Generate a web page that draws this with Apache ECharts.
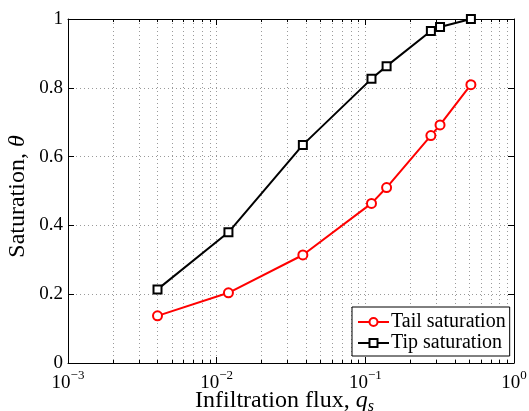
<!DOCTYPE html>
<html>
<head>
<meta charset="utf-8">
<script src="https://cdn.jsdelivr.net/npm/echarts@6/dist/echarts.min.js"></script>
<style>
  html, body { margin: 0; padding: 0; background: #fff; }
  #chart { width: 529px; height: 411px; }
</style>
</head>
<body>
<div id="chart"></div>
<script>
// Infiltration flux q_s (log scale) and the corresponding saturations
const fluxValues     = [0.004, 0.012, 0.038, 0.110, 0.139, 0.276, 0.318, 0.513];
const tailSaturation = [0.137, 0.204, 0.314, 0.464, 0.510, 0.661, 0.692, 0.809];
const tipSaturation  = [0.214, 0.380, 0.634, 0.826, 0.863, 0.965, 0.977, 1.000];
const seriesNames    = ['Tail saturation', 'Tip saturation'];

const FONT = "'Liberation Serif', 'DejaVu Serif', serif";
const dotted = { color: '#9a9a9a', width: 1, type: [1, 3] };

function pairs(xs, ys) {
  return xs.map((x, i) => [x, ys[i]]);
}

// 10^n tick labels for the log axis
function powerLabel(v) {
  const e = Math.round(Math.log10(v));
  const exp = e < 0 ? '\u2212' + (-e) : String(e);
  return '{b|10}{e|' + exp + '}';
}

const powerRich = {
  b: { fontFamily: FONT, fontSize: 19, color: '#000', verticalAlign: 'bottom', lineHeight: 24 },
  e: { fontFamily: FONT, fontSize: 13, color: '#000', verticalAlign: 'top', lineHeight: 24 }
};

const chart = echarts.init(document.getElementById('chart'), null, { renderer: 'canvas' });

const baseX = {
  type: 'log',
  logBase: 10,
  min: 0.001,
  max: 1,
  axisLine: { show: true, onZero: false, lineStyle: { color: '#000', width: 1 } },
  axisTick: { show: true, inside: true, length: 6, lineStyle: { color: '#000' } },
  minorTick: { show: true, splitNumber: 9, length: 3, lineStyle: { color: '#000' } }
};

const baseY = {
  type: 'value',
  min: 0,
  max: 1,
  interval: 0.2,
  axisLine: { show: true, onZero: false, lineStyle: { color: '#000', width: 1 } },
  axisTick: { show: true, inside: true, length: 6, lineStyle: { color: '#000' } }
};

chart.setOption({
  animation: false,
  backgroundColor: '#fff',
  grid: { left: 68, right: 15, top: 19, bottom: 48, containLabel: false, outerBoundsMode: 'none' },
  xAxis: [
    Object.assign({}, baseX, {
      position: 'bottom',
      name: 'Infiltration flux, {i|q}{s|s}',
      nameLocation: 'middle',
      nameGap: 24,
      nameMoveOverlap: false,
      nameTextStyle: {
        fontFamily: FONT, fontSize: 24, color: '#000', lineHeight: 24,
        padding: [0, 13, 0, 0],
        rich: {
          i: { fontFamily: FONT, fontSize: 24, fontStyle: 'italic', color: '#000', lineHeight: 24 },
          s: { fontFamily: FONT, fontSize: 16, fontStyle: 'italic', color: '#000', verticalAlign: 'bottom', lineHeight: 28 }
        }
      },
      axisLabel: { show: true, margin: 6, formatter: powerLabel, rich: powerRich },
      splitLine: { show: true, lineStyle: dotted },
      minorSplitLine: { show: true, lineStyle: dotted }
    }),
    Object.assign({}, baseX, {
      position: 'top',
      axisLabel: { show: false },
      splitLine: { show: false },
      minorSplitLine: { show: false }
    })
  ],
  yAxis: [
    Object.assign({}, baseY, {
      position: 'left',
      name: 'Saturation, {i|\u03b8}',
      nameLocation: 'middle',
      nameRotate: 90,
      nameGap: 38,
      nameMoveOverlap: false,
      nameTextStyle: {
        fontFamily: FONT, fontSize: 24, color: '#000', lineHeight: 24,
        padding: [0, 11, 0, 0],
        rich: { i: { fontFamily: FONT, fontSize: 24, fontStyle: 'italic', color: '#000', lineHeight: 24 } }
      },
      axisLabel: {
        show: true, margin: 5,
        fontFamily: FONT, fontSize: 19, color: '#000',
        formatter: v => (v === 0 || v === 1) ? String(v) : v.toFixed(1)
      },
      splitLine: { show: true, lineStyle: dotted }
    }),
    Object.assign({}, baseY, {
      position: 'right',
      axisLabel: { show: false },
      splitLine: { show: false }
    })
  ],
  legend: {
    data: seriesNames,
    orient: 'vertical',
    left: 352,
    top: 307,
    padding: [5, 4, 3, 5],
    itemGap: 1,
    itemWidth: 31,
    itemHeight: 10,
    borderColor: '#000',
    borderWidth: 1,
    borderRadius: 0,
    backgroundColor: '#fff',
    textStyle: { fontFamily: FONT, fontSize: 20, lineHeight: 20, color: '#000', padding: [0, 0, 0, -3] }
  },
  series: [
    {
      name: seriesNames[0],
      type: 'line',
      xAxisIndex: 0,
      yAxisIndex: 0,
      data: pairs(fluxValues, tailSaturation),
      symbol: 'emptyCircle',
      symbolSize: 9,
      lineStyle: { color: '#ff0000', width: 2 },
      itemStyle: { color: '#ff0000', borderColor: '#ff0000', borderWidth: 1.8 },
      z: 3
    },
    {
      name: seriesNames[1],
      type: 'line',
      xAxisIndex: 0,
      yAxisIndex: 0,
      data: pairs(fluxValues, tipSaturation),
      symbol: 'emptyRect',
      symbolSize: 8,
      lineStyle: { color: '#000', width: 2 },
      itemStyle: { color: '#000', borderColor: '#000', borderWidth: 2 },
      z: 3
    }
  ]
});
</script>
</body>
</html>
